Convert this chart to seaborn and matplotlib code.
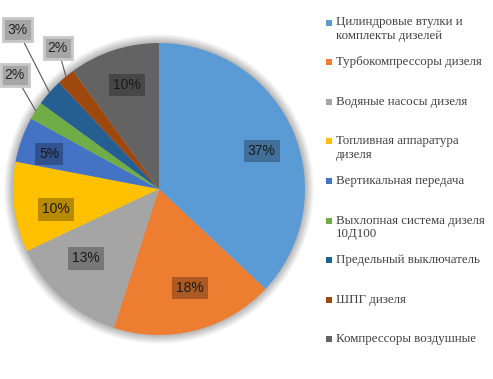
import numpy as np
import matplotlib.pyplot as plt
import seaborn as sns
from matplotlib.patches import Circle, Rectangle

sns.set_theme(style="white")
plt.rcParams['font.family'] = ['Liberation Serif', 'DejaVu Serif']

# --- Data ---
categories = [
    'Цилиндровые втулки и\nкомплекты дизелей',
    'Турбокомпрессоры дизеля',
    'Водяные насосы дизеля',
    'Топливная аппаратура\nдизеля',
    'Вертикальная передача',
    'Выхлопная система дизеля\n10Д100',
    'Предельный выключатель',
    'ШПГ дизеля',
    'Компрессоры воздушные',
]
shares = [37, 18, 13, 10, 5, 2, 3, 2, 10]
pct_labels = ['37%', '18%', '13%', '10%', '5%', '2%', '3%', '2%', '10%']

colors = ['#5B9BD5', '#ED7D31', '#A5A5A5', '#FFC000', '#4472C4',
          '#70AD47', '#255E91', '#9E480E', '#636363']

# label placement per slice: (radius factor, angle nudge in degrees, outside?)
label_place = [(0.75, -3, False), (0.71, 3, False), (0.69, -5, False),
               (0.72, 4, False), (0.79, 2, False), (1.26, -6, True),
               (1.46, -7, True), (1.19, -4, True), (0.745, -1, False)]

# --- Plot ---
fig = plt.figure(figsize=(4.93, 3.79), dpi=100)
ax = fig.add_axes([13 / 493, 44 / 379, 292 / 493, 292 / 379])

# soft glow behind the pie
for k, a in zip(np.linspace(1.06, 1.0, 7), [0.08, 0.10, 0.12, 0.14, 0.16, 0.18, 0.2]):
    ax.add_patch(Circle((0, 0), k, fc='#8c8c8c', alpha=a, lw=0, zorder=0,
                        clip_on=False))

wedges, _ = ax.pie(shares, colors=colors, startangle=90, counterclock=False,
                   radius=1.0, wedgeprops=dict(linewidth=0, zorder=2),
                   normalize=True)

ax.set_xlim(-1, 1)
ax.set_ylim(-1, 1)
ax.set_aspect('equal')
ax.axis('off')

total = sum(shares)
cum = np.cumsum([0] + shares[:-1])
for i, (s, c0) in enumerate(zip(shares, cum)):
    mid = 90 - (c0 + s / 2) / total * 360
    r, nudge, outside = label_place[i]
    ang = np.deg2rad(mid + nudge)
    tx, ty = r * np.cos(ang), r * np.sin(ang)
    if outside:
        ex, ey = np.cos(np.deg2rad(mid)), np.sin(np.deg2rad(mid))
        ax.annotate(pct_labels[i], xy=(ex, ey), xytext=(tx, ty),
                    ha='center', va='center', fontsize=10, color='#262626',
                    family=['Liberation Sans', 'DejaVu Sans'],
                    bbox=dict(boxstyle='square,pad=0.3', fc='#a6a6a6',
                              ec='#c8c8c8', lw=2),
                    arrowprops=dict(arrowstyle='-', color='#595959', lw=0.8,
                                    shrinkA=0, shrinkB=0),
                    annotation_clip=False, zorder=5)
    else:
        ax.text(tx, ty, pct_labels[i], ha='center', va='center', fontsize=10,
                color='#1a1a1a', family=['Liberation Sans', 'DejaVu Sans'],
                bbox=dict(boxstyle='square,pad=0.3', fc='black', alpha=0.28,
                          ec='none'),
                zorder=5)

# --- Legend (drawn entry by entry, markers at first text line) ---
top = 1 - 22 / 379
step = 39.6 / 379
for i, (lab, col) in enumerate(zip(categories, colors)):
    y = top - i * step
    fig.patches.append(Rectangle((326 / 493, y - 3.5 / 379), 6 / 493, 6 / 379,
                                 transform=fig.transFigure, fc=col, ec='none'))
    fig.text(336 / 493, y + 5.5 / 379, lab, ha='left', va='top', fontsize=9.3,
             color='#404040', linespacing=1.2)

fig.savefig('out.png', dpi=100)
